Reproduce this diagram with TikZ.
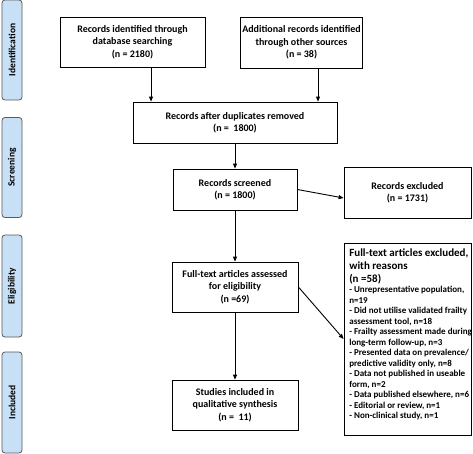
\documentclass[tikz,border=0pt]{standalone}
\usepackage{fontspec}
\setmainfont{Carlito}
\usetikzlibrary{arrows.meta}
\begin{document}
\begin{tikzpicture}[x=1pt,y=-1pt,
  box/.style={draw=black,line width=0.8pt,fill=white,align=center,inner sep=2pt,
    font=\fontsize{10}{12.3}\selectfont\bfseries},
  side/.style={draw=black!65,line width=0.8pt,fill={rgb,255:red,199;green,224;blue,245},rounded corners=3pt,
    minimum width=20pt,inner sep=0pt},
  sidetext/.style={rotate=90,text=black,font=\fontsize{9.5}{10}\selectfont\bfseries},
  hdr/.style={anchor=north west,inner sep=0pt,align=left,font=\fontsize{11}{13}\selectfont\bfseries},
  lst/.style={anchor=north west,inner sep=0pt,align=left,font=\fontsize{9}{10.5}\selectfont\bfseries},
  arr/.style={-{Triangle[length=5pt,width=4pt]},line width=0.9pt}]
\useasboundingbox (0,0) rectangle (473,454);
% side labels
\node[side,minimum height=100pt] (s1) at (12,50) {};
\node[sidetext] at (s1) {Identification};
\node[side,minimum height=100pt] (s2) at (12,167.5) {};
\node[sidetext] at (s2) {Screening};
\node[side,minimum height=102pt] (s3) at (12,286) {};
\node[sidetext] at (s3) {Eligibility};
\node[side,minimum height=101pt] (s4) at (12,402.5) {};
\node[sidetext] at (s4) {Included};
% boxes
\node[box,minimum width=145pt,minimum height=50pt] (b1) at (132.5,42) {Records identified through\\database searching\\(n = 2180)};
\node[box,minimum width=109pt,minimum height=51pt] (b2) at (301.5,42.5) {Additional records identified\\through other sources\\(n = 38)};
\node[box,minimum width=204pt,minimum height=41pt] (b3) at (235,122.5) {Records after duplicates removed\\(n =\ \ 1800)};
\node[box,minimum width=124pt,minimum height=41pt] (b4) at (235,189.5) {Records screened\\(n = 1800)};
\node[box,minimum width=127pt,minimum height=51pt] (b5) at (407.5,192.5) {Records excluded\\(n = 1731)};
\node[box,minimum width=126pt,minimum height=50pt] (b6) at (235,287) {Full-text articles assessed\\for eligibility\\(n =69)};
\node[box,minimum width=127pt,minimum height=192pt] (b7) at (407.5,339) {};
\node[hdr] (t7a) at ([xshift=5.5pt,yshift=-6pt]b7.north west)
 {Full-text articles excluded,\\with reasons\\(n =58)};
\node[lst] (t7b) at ([yshift=-2pt]t7a.south west)
 {- Unrepresentative population,\\
  n=19\\
  - Did not utilise validated frailty\\
  assessment tool, n=18\\
  - Frailty assessment made during\\
  long-term follow-up, n=3\\
  - Presented data on prevalence/\\
  predictive validity only, n=8\\
  - Data not published in useable\\
  form, n=2\\
  - Data published elsewhere, n=6\\
  - Editorial or review, n=1\\
  - Non-clinical study, n=1};
\node[box,minimum width=126pt,minimum height=50pt] (b8) at (235,405) {Studies included in\\qualitative synthesis\\(n =\ \ 11)};
% arrows
\draw[arr] ([xshift=18.5pt]b1.south) -- ([xshift=18.5pt]b1.south |- b3.north);
\draw[arr] ([xshift=16.5pt]b2.south) -- ([xshift=16.5pt]b2.south |- b3.north);
\draw[arr] (b3.south) -- (b4.north);
\draw[arr] (b4.east) -- ([yshift=-5.5pt]b5.west);
\draw[arr] (b4.south) -- (b6.north);
\draw[arr] (b6.east) -- (b7.west);
\draw[arr] (b6.south) -- (b8.north);
\end{tikzpicture}
\end{document}
